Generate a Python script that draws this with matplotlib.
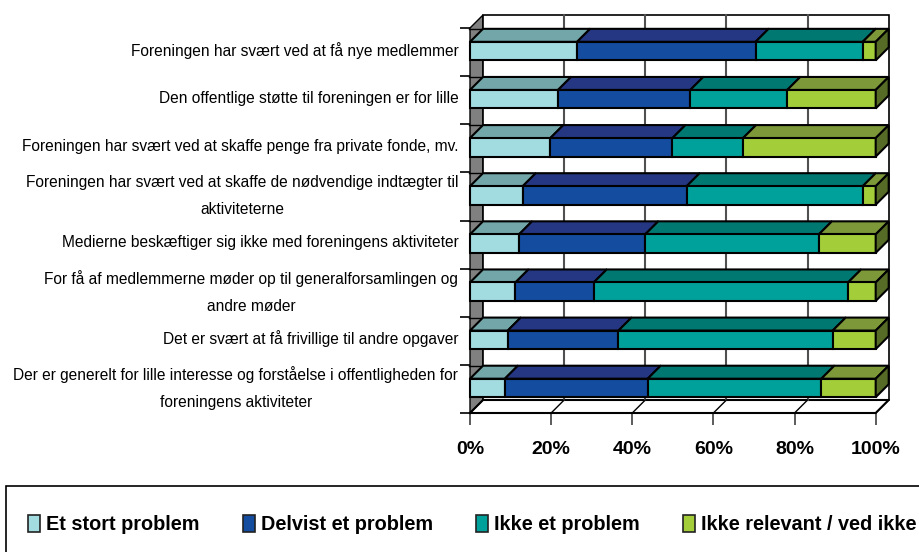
import matplotlib
matplotlib.use("Agg")
import matplotlib.pyplot as plt
from matplotlib.patches import Polygon, Rectangle

plt.rcParams['font.family'] = ['Liberation Sans', 'DejaVu Sans']

labels = [
    "Foreningen har svært ved at få nye medlemmer",
    "Den offentlige støtte til foreningen er for lille",
    "Foreningen har svært ved at skaffe penge fra private fonde, mv.",
    "Foreningen har svært ved at skaffe de nødvendige indtægter til\naktiviteterne",
    "Medierne beskæftiger sig ikke med foreningens aktiviteter",
    "For få af medlemmerne møder op til generalforsamlingen og\nandre møder",
    "Det er svært at få frivillige til andre opgaver",
    "Der er generelt for lille interesse og forståelse i offentligheden for\nforeningens aktiviteter",
]
stort = [26.4, 21.7, 19.8, 13.0, 12.1, 11.2, 9.3, 8.6]
delvist = [44.0, 32.6, 30.1, 40.4, 31.1, 19.3, 27.3, 35.2]
ikke = [26.4, 23.9, 17.4, 43.4, 42.8, 62.7, 52.8, 42.8]
ved_ikke = [3.2, 21.8, 32.7, 3.2, 14.0, 6.8, 10.6, 13.4]
series = [stort, delvist, ikke, ved_ikke]
names = ["Et stort problem", "Delvist et problem", "Ikke et problem", "Ikke relevant / ved ikke"]
xticks = [0, 20, 40, 60, 80, 100]

front = ["#a2dbe0", "#144c9f", "#00a19a", "#a3cd39"]
top = ["#72a6a8", "#253782", "#007872", "#7c9838"]
side = "#556b26"
W, H = 919, 552

fig = plt.figure(figsize=(9.19, 5.52), dpi=100)
ax = fig.add_axes([470 / W, 1 - 413 / H, 405.7 / W, 385 / H])
ax.set_xlim(0, 100)
ax.set_ylim(7.5, -0.5)

# depth of the fake 3d, in data units
dx = 13 / 405.7 * 100
dy = 13 / 48.1
bar_h = 0.385
shift = -0.02
lw = 1.5

# walls
ax.add_patch(Polygon([(0, -0.5), (dx, -0.5 - dy), (dx, 7.5 - dy), (0, 7.5)], fc="#808080", ec="k", lw=1, clip_on=False, zorder=1))
ax.add_patch(Polygon([(dx, -0.5 - dy), (100 + dx, -0.5 - dy), (100 + dx, 7.5 - dy), (dx, 7.5 - dy)], fc="white", ec="k", lw=1.2, clip_on=False, zorder=1))
ax.plot([0, dx, 100 + dx, 100, 0], [7.5, 7.5 - dy, 7.5 - dy, 7.5, 7.5], color="k", lw=1.5, clip_on=False, zorder=2)
for t in xticks[1:-1]:
    ax.plot([t + dx, t + dx], [-0.5 - dy, 7.5 - dy], color="#505050", lw=1.5, clip_on=False, zorder=2)
    ax.plot([t, t + dx], [7.5, 7.5 - dy], color="k", lw=1, clip_on=False, zorder=2)
ax.plot([100, 100 + dx], [7.5, 7.5 - dy], color="k", lw=1, clip_on=False, zorder=2)

# bars, from the back of the picture to the front
for i in range(len(labels)):
    y0 = i + shift - bar_h / 2
    y1 = i + shift + bar_h / 2
    left = 0
    ax.plot([-0.2, dx], [y0 - dy] * 2, color="k", lw=1, clip_on=False, zorder=3 + i)
    for s in range(4):
        v = series[s][i]
        ax.add_patch(Polygon([(left, y0), (left + dx, y0 - dy), (left + v + dx, y0 - dy), (left + v, y0)],
                             fc=top[s], ec="k", lw=lw, clip_on=False, zorder=3 + i))
        ax.add_patch(Rectangle((left, y0), v, y1 - y0, fc=front[s], ec="k", lw=lw, clip_on=False, zorder=3 + i))
        left += v
    ax.add_patch(Polygon([(left, y0), (left + dx, y0 - dy), (left + dx, y1 - dy), (left, y1)],
                         fc=side, ec="k", lw=lw, clip_on=False, zorder=3 + i))

for sp in ax.spines.values():
    sp.set_visible(False)
ax.patch.set_visible(False)

ax.set_xticks(xticks)
ax.set_xticklabels([f"{t}%" for t in xticks], fontweight="bold", fontsize=14)
ax.tick_params(axis="x", length=8.6, width=1.2, color="#404040", pad=11.5)
ax.set_yticks([i - 0.5 for i in range(9)])
ax.set_yticklabels([])
ax.tick_params(axis="y", which="major", length=7.2, width=1.2, color="k")
# labels sit a little above the middle of each band, wrapped ones a bit more
label_pos = [i - (0.17 if "\n" in labels[i] else 0.07) for i in range(8)]
ax.set_yticks(label_pos, labels=labels, minor=True, fontsize=11.2, ma="center", linespacing=2.0)
ax.tick_params(axis="y", which="minor", length=0, pad=8.4)

# legend box runs off the right edge
fig.add_artist(Rectangle((5.5 / W, -0.01), 930 / W, 1.01 - 486 / H, transform=fig.transFigure, fc="white", ec="k", lw=1.2))
marker_x = [28, 242.5, 476, 683]
text_x = [46.5, 261, 494, 701]
for s in range(4):
    fig.add_artist(Rectangle((marker_x[s] / W, 1 - 531.5 / H), 12.3 / W, 17 / H, transform=fig.transFigure, fc=front[s], ec="#222222", lw=1.2))
    fig.text(text_x[s] / W, 1 - 525 / H, names[s], fontweight="bold", fontsize=14.3, va="center", ha="left")

fig.savefig("out.png", dpi=100)
